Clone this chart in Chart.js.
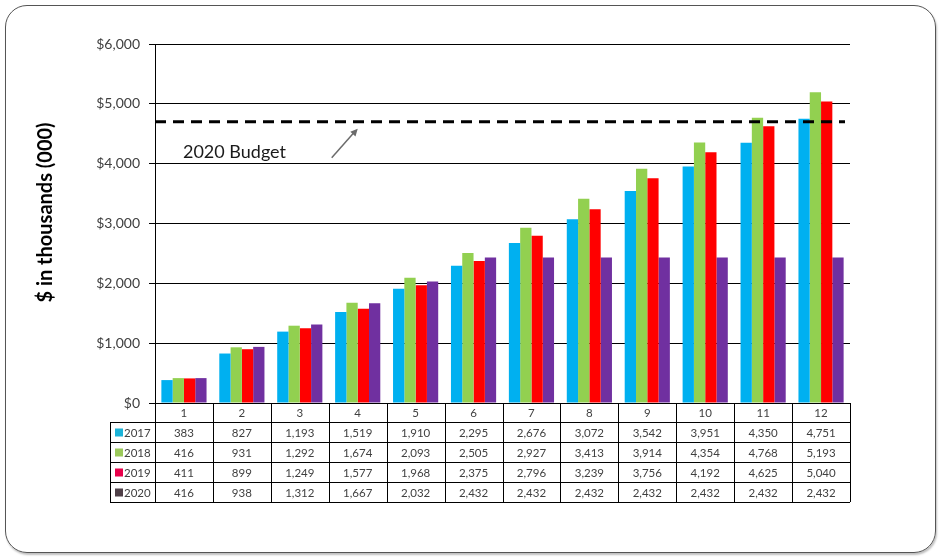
<!DOCTYPE html>
<html>
<head>
<meta charset="utf-8">
<script src="https://cdn.jsdelivr.net/npm/chart.js@4"></script>
<style>
  body { margin: 0; background: #fff; }
  #marco {
    position: absolute; left: 5px; top: 5px; width: 929px; height: 546px;
    border: 1.5px solid #555; border-radius: 22px;
    box-shadow: 1px 2px 2px rgba(0,0,0,0.25);
  }
  #grafico { position: absolute; left: 0; top: 0; }
</style>
</head>
<body>
<div id="marco"></div>
<canvas id="grafico" width="941" height="559"></canvas>
<script>
//datos
const meses = ['1', '2', '3', '4', '5', '6', '7', '8', '9', '10', '11', '12'];
const anios = ['2017', '2018', '2019', '2020'];
const datos2017 = [383, 827, 1193, 1519, 1910, 2295, 2676, 3072, 3542, 3951, 4350, 4751];
const datos2018 = [416, 931, 1292, 1674, 2093, 2505, 2927, 3413, 3914, 4354, 4768, 5193];
const datos2019 = [411, 899, 1249, 1577, 1968, 2375, 2796, 3239, 3756, 4192, 4625, 5040];
const datos2020 = [416, 938, 1312, 1667, 2032, 2432, 2432, 2432, 2432, 2432, 2432, 2432];
const presupuesto2020 = 4700;
const textoPresupuesto = '2020 Budget';
const tituloEje = '$ in thousands (000)';

//colores
const colores = ['#00B0F0', '#92D050', '#FF0000', '#7030A0'];
const coloresMarca = ['#1BB3D8', '#9BC95A', '#E8004A', '#4F4048'];
const fuente = 'Lato, "Open Sans", sans-serif';

const series = [datos2017, datos2018, datos2019, datos2020];

//titulo del eje y (un poco por encima del centro, como en el original)
const tituloY = {
    id: 'tituloY',
    afterDraw(chart) {
        const { ctx, chartArea } = chart;
        ctx.save();
        ctx.translate(46, (chartArea.top + chartArea.bottom) / 2 - 11);
        ctx.rotate(-Math.PI / 2);
        ctx.font = 'bold 20px ' + fuente;
        ctx.fillStyle = '#000';
        ctx.textAlign = 'center';
        ctx.textBaseline = 'middle';
        ctx.fillText(tituloEje, 0, 0);
        ctx.restore();
    }
};

//linea de presupuesto y flecha
const lineaPresupuesto = {
    id: 'lineaPresupuesto',
    afterDatasetsDraw(chart) {
        const { ctx, chartArea, scales: { x, y } } = chart;
        const yPres = y.getPixelForValue(presupuesto2020);
        ctx.save();
        ctx.strokeStyle = '#000';
        ctx.lineWidth = 3;
        ctx.setLineDash([11, 7]);
        ctx.beginPath();
        ctx.moveTo(chartArea.left, yPres);
        ctx.lineTo(chartArea.right - 5, yPres);
        ctx.stroke();
        ctx.setLineDash([]);

        //texto
        ctx.fillStyle = '#1a1a1a';
        ctx.font = '18px ' + fuente;
        ctx.textBaseline = 'middle';
        ctx.textAlign = 'left';
        ctx.fillText(textoPresupuesto, x.getPixelForValue(0) - 1, yPres + 30);

        //flecha
        const puntaX = x.getPixelForValue(3);
        const puntaY = yPres + 7;
        const colaX = puntaX - 26;
        const colaY = puntaY + 29;
        ctx.strokeStyle = '#6b6b6b';
        ctx.fillStyle = '#6b6b6b';
        ctx.lineWidth = 1.5;
        ctx.beginPath();
        ctx.moveTo(colaX, colaY);
        ctx.lineTo(puntaX - 3, puntaY + 3);
        ctx.stroke();
        const ang = Math.atan2(puntaY - colaY, puntaX - colaX);
        ctx.beginPath();
        ctx.moveTo(puntaX, puntaY);
        ctx.lineTo(puntaX - 8 * Math.cos(ang - 0.45), puntaY - 8 * Math.sin(ang - 0.45));
        ctx.lineTo(puntaX - 8 * Math.cos(ang + 0.45), puntaY - 8 * Math.sin(ang + 0.45));
        ctx.closePath();
        ctx.fill();
        ctx.restore();
    }
};

//tabla de datos debajo del grafico
const tablaDatos = {
    id: 'tablaDatos',
    afterDraw(chart) {
        const { ctx, chartArea, scales: { x } } = chart;
        const ancho = chartArea.width / meses.length;
        const arriba = chartArea.bottom;
        const altoEncabezado = 19;
        const altoFila = 20;
        const izqEtiquetas = chartArea.left - 45;
        const abajo = arriba + altoEncabezado + altoFila * anios.length;

        ctx.save();
        ctx.strokeStyle = '#000';
        ctx.lineWidth = 1;

        //lineas horizontales
        ctx.beginPath();
        ctx.moveTo(chartArea.left, arriba + 0.5);
        ctx.lineTo(chartArea.right, arriba + 0.5);
        for (let i = 0; i <= anios.length; i++) {
            const yy = Math.round(arriba + altoEncabezado + altoFila * i) + 0.5;
            ctx.moveTo(izqEtiquetas, yy);
            ctx.lineTo(chartArea.right, yy);
        }
        //lineas verticales
        ctx.moveTo(Math.round(izqEtiquetas) + 0.5, arriba + altoEncabezado);
        ctx.lineTo(Math.round(izqEtiquetas) + 0.5, abajo);
        for (let i = 0; i <= meses.length; i++) {
            const xx = Math.round(chartArea.left + ancho * i) + 0.5;
            ctx.moveTo(xx, arriba);
            ctx.lineTo(xx, abajo);
        }
        ctx.stroke();

        //textos
        ctx.font = '11.5px ' + fuente;
        ctx.fillStyle = '#404040';
        ctx.textAlign = 'center';
        ctx.textBaseline = 'middle';
        meses.forEach((mes, i) => {
            ctx.fillText(mes, x.getPixelForValue(i), arriba + altoEncabezado / 2 + 1);
        });
        series.forEach((serie, fila) => {
            const yc = arriba + altoEncabezado + altoFila * fila + altoFila / 2 + 1;
            serie.forEach((valor, i) => {
                ctx.fillText(valor.toLocaleString('en-US'), x.getPixelForValue(i), yc);
            });
            //marca y anio
            ctx.fillStyle = coloresMarca[fila];
            ctx.fillRect(izqEtiquetas + 5, yc - 4.5, 8, 8);
            ctx.fillStyle = '#404040';
            ctx.textAlign = 'left';
            ctx.fillText(anios[fila], izqEtiquetas + 14, yc);
            ctx.textAlign = 'center';
        });
        ctx.restore();
    }
};

const ctx = document.getElementById('grafico').getContext('2d');
const grafico = new Chart(ctx, {
    type: 'bar',
    data: {
        labels: meses,
        datasets: anios.map((anio, i) => ({
            label: anio,
            data: series[i],
            backgroundColor: colores[i],
            borderWidth: 0,
            barPercentage: 1.0,
            categoryPercentage: 0.78
        }))
    },
    options: {
        responsive: false,
        animation: false,
        layout: { padding: { left: 0, top: 44, right: 91, bottom: 156 } },
        plugins: {
            legend: { display: false },
            tooltip: { enabled: false }
        },
        scales: {
            x: { display: false },
            y: {
                min: 0,
                max: 6000,
                afterFit: scale => { scale.width = 155; },
                ticks: {
                    stepSize: 1000,
                    color: '#404040',
                    padding: 9,
                    font: { family: fuente, size: 14 },
                    callback: v => '$' + v.toLocaleString('en-US')
                },
                grid: { color: '#000', lineWidth: 1, tickLength: 6 },
                border: { display: true, color: '#000', width: 1 }
            }
        }
    },
    plugins: [lineaPresupuesto, tablaDatos, tituloY]
});
</script>
</body>
</html>
